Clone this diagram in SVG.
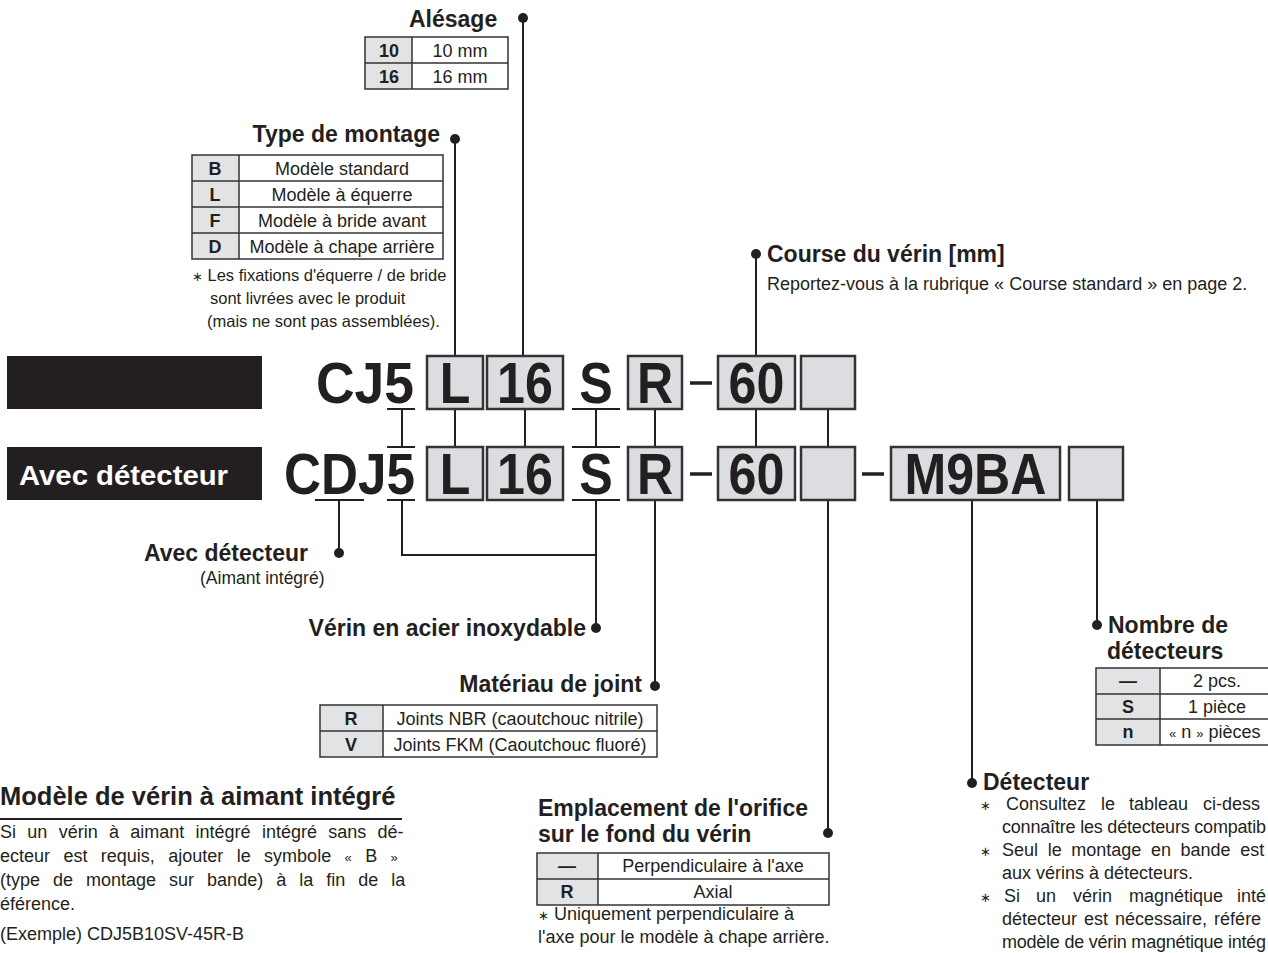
<svg xmlns="http://www.w3.org/2000/svg" width="1268" height="953" viewBox="0 0 1268 953">
<style>
text{font-family:"Liberation Sans",Arial,"DejaVu Sans",sans-serif;fill:#231f20}
.h{font-size:23px;font-weight:bold}
.big{font-size:57px;font-weight:bold}
.bd{font-size:18px}
.bk{font-size:18px;font-weight:bold}
.nt{font-size:16.5px}
.ast{font-size:13px}
.m{text-anchor:middle}
.e{text-anchor:end}
.ln{stroke:#231f20;stroke-width:2;fill:none}
.box{fill:#dcdde0;stroke:#333;stroke-width:2.5}
.key{fill:#e2e3e5;stroke:none}
.tb{fill:none;stroke:#333;stroke-width:1.5}
.dot{fill:#231f20}
.bar{fill:#231f20}
</style>

<g id="connectors">
<path class="ln" d="M523 18V356M455 139V356M756 254V356"/>
<path class="ln" d="M402 409V447M455 409V447M525 409V447M596 409V447M655 409V447M756 409V447M828 409V447"/>
<path class="ln" d="M387 409H415M572 409H620M387 447H415M572 447H620M315 500H364M387 500H415M572 500H620"/>
<path class="ln" d="M339 500V553M402 500V555H596M596 500V628M655 500V686M828 500V833M972 500V783M1097 500V625"/>
<circle class="dot" cx="523" cy="18" r="5"/>
<circle class="dot" cx="455" cy="139" r="5"/>
<circle class="dot" cx="756" cy="254" r="5"/>
<circle class="dot" cx="339" cy="553" r="5"/>
<circle class="dot" cx="596" cy="628" r="5"/>
<circle class="dot" cx="655" cy="686" r="5"/>
<circle class="dot" cx="828" cy="833" r="5"/>
<circle class="dot" cx="972" cy="783" r="5"/>
<circle class="dot" cx="1097" cy="625" r="5"/>
</g>

<g id="bar-standard">
<rect class="bar" x="7" y="356" width="255" height="53"/>
</g>
<g id="bar-detecteur">
<rect class="bar" x="7" y="447" width="255" height="53"/>
<text x="19" y="485" font-size="27.5" font-weight="bold" style="fill:#fff" textLength="209" lengthAdjust="spacingAndGlyphs">Avec détecteur</text>
</g>

<g id="row-top">
<text class="big" x="316" y="403" textLength="98" lengthAdjust="spacingAndGlyphs">CJ5</text>
<rect class="box" x="427" y="356" width="56" height="53"/>
<text class="big" x="439.7" y="403" textLength="30.6" lengthAdjust="spacingAndGlyphs">L</text>
<rect class="box" x="487" y="356" width="76" height="53"/>
<text class="big" x="497.1" y="403" textLength="55.8" lengthAdjust="spacingAndGlyphs">16</text>
<text class="big" x="579.3" y="403" textLength="33.5" lengthAdjust="spacingAndGlyphs">S</text>
<rect class="box" x="628" y="356" width="54" height="53"/>
<text class="big" x="636.9" y="403" textLength="36.2" lengthAdjust="spacingAndGlyphs">R</text>
<path class="ln" d="M690 383H712" style="stroke-width:3.5"/>
<rect class="box" x="718" y="356" width="77" height="53"/>
<text class="big" x="728.6" y="403" textLength="55.8" lengthAdjust="spacingAndGlyphs">60</text>
<rect class="box" x="801" y="356" width="54" height="53"/>
</g>

<g id="row-bottom">
<text class="big" x="284" y="494" textLength="131" lengthAdjust="spacingAndGlyphs">CDJ5</text>
<rect class="box" x="427" y="447" width="56" height="53"/>
<text class="big" x="439.7" y="494" textLength="30.6" lengthAdjust="spacingAndGlyphs">L</text>
<rect class="box" x="487" y="447" width="76" height="53"/>
<text class="big" x="497.1" y="494" textLength="55.8" lengthAdjust="spacingAndGlyphs">16</text>
<text class="big" x="579.3" y="494" textLength="33.5" lengthAdjust="spacingAndGlyphs">S</text>
<rect class="box" x="628" y="447" width="54" height="53"/>
<text class="big" x="636.9" y="494" textLength="36.2" lengthAdjust="spacingAndGlyphs">R</text>
<path class="ln" d="M690 474H712M862 474H884" style="stroke-width:3.5"/>
<rect class="box" x="718" y="447" width="77" height="53"/>
<text class="big" x="728.6" y="494" textLength="55.8" lengthAdjust="spacingAndGlyphs">60</text>
<rect class="box" x="801" y="447" width="54" height="53"/>
<rect class="box" x="891" y="447" width="169" height="53"/>
<text class="big" x="904.5" y="494" textLength="142" lengthAdjust="spacingAndGlyphs">M9BA</text>
<rect class="box" x="1069" y="447" width="54" height="53"/>
</g>

<g id="alesage">
<text class="h" x="409" y="27">Alésage</text>
<rect class="key" x="365" y="37" width="47" height="52"/>
<rect class="tb" x="365" y="37" width="143" height="52"/>
<path class="tb" d="M365 63H508M412 37V89"/>
<text class="bk m" x="389" y="57">10</text>
<text class="bd m" x="460" y="57">10 mm</text>
<text class="bk m" x="389" y="83">16</text>
<text class="bd m" x="460" y="83">16 mm</text>
</g>

<g id="type-montage">
<text class="h e" x="440" y="142">Type de montage</text>
<rect class="key" x="192" y="155" width="47" height="104"/>
<rect class="tb" x="192" y="155" width="251" height="104"/>
<path class="tb" d="M192 181H443M192 207H443M192 233H443M239 155V259"/>
<text class="bk m" x="215" y="174.5">B</text>
<text class="bd m" x="342" y="174.5">Modèle standard</text>
<text class="bk m" x="215" y="200.5">L</text>
<text class="bd m" x="342" y="200.5">Modèle à équerre</text>
<text class="bk m" x="215" y="226.5">F</text>
<text class="bd m" x="342" y="226.5">Modèle à bride avant</text>
<text class="bk m" x="215" y="252.5">D</text>
<text class="bd m" x="342" y="252.5">Modèle à chape arrière</text>
<text class="nt" x="192" y="281"><tspan class="ast">∗</tspan> Les fixations d'équerre / de bride</text>
<text class="nt" x="210" y="304">sont livrées avec le produit</text>
<text class="nt" x="207" y="327">(mais ne sont pas assemblées).</text>
</g>

<g id="course">
<text class="h" x="767" y="262">Course du vérin [mm]</text>
<text class="bd" x="767" y="290">Reportez-vous à la rubrique « Course standard » en page 2.</text>
</g>

<g id="avec-detecteur">
<text class="h e" x="308" y="561">Avec détecteur</text>
<text x="200" y="584" font-size="17.5">(Aimant intégré)</text>
</g>

<g id="inox">
<text class="h e" x="586" y="636">Vérin en acier inoxydable</text>
</g>

<g id="joint">
<text class="h e" x="642" y="692">Matériau de joint</text>
<rect class="key" x="320" y="705" width="63" height="52"/>
<rect class="tb" x="320" y="705" width="337" height="52"/>
<path class="tb" d="M320 731H657M383 705V757"/>
<text class="bk m" x="351" y="724.5">R</text>
<text class="bd m" x="520" y="724.5">Joints NBR (caoutchouc nitrile)</text>
<text class="bk m" x="351" y="750.5">V</text>
<text class="bd m" x="520" y="750.5">Joints FKM (Caoutchouc fluoré)</text>
</g>

<g id="nombre">
<text class="h" x="1108" y="633">Nombre de</text>
<text class="h" x="1107" y="659">détecteurs</text>
<rect class="key" x="1096" y="668" width="64" height="77"/>
<rect class="tb" x="1096" y="668" width="176" height="77"/>
<path class="tb" d="M1096 694H1268M1096 719H1268M1160 668V745"/>
<text class="bk m" x="1128" y="687">—</text>
<text class="bd m" x="1217" y="687">2 pcs.</text>
<text class="bk m" x="1128" y="712.5">S</text>
<text class="bd m" x="1217" y="712.5">1 pièce</text>
<text class="bk m" x="1128" y="738">n</text>
<text class="bd" x="1169" y="738"><tspan font-size="13">«</tspan> n <tspan font-size="13">»</tspan> pièces</text>
</g>

<g id="emplacement">
<text class="h" x="538" y="816">Emplacement de l'orifice</text>
<text class="h" x="538" y="842">sur le fond du vérin</text>
<rect class="key" x="537" y="853" width="61" height="52"/>
<rect class="tb" x="537" y="853" width="292" height="52"/>
<path class="tb" d="M537 879H829M598 853V905"/>
<text class="bk m" x="567" y="872">—</text>
<text class="bd m" x="713" y="872">Perpendiculaire à l'axe</text>
<text class="bk m" x="567" y="898">R</text>
<text class="bd m" x="713" y="898">Axial</text>
<text class="bd" x="538" y="920"><tspan class="ast">∗</tspan> Uniquement perpendiculaire à</text>
<text class="bd" x="538" y="943">l'axe pour le modèle à chape arrière.</text>
</g>

<g id="detecteur">
<text class="h" x="983" y="790">Détecteur</text>
<text class="bd" y="810"><tspan class="ast" x="980">∗</tspan><tspan x="1006">Consultez</tspan><tspan x="1101">le</tspan><tspan x="1129">tableau</tspan><tspan x="1203">ci-dess</tspan></text>
<text class="bd" x="1002" y="833" textLength="264" lengthAdjust="spacing">connaître les détecteurs compatib</text>
<text class="bd" y="856"><tspan class="ast" x="980">∗</tspan><tspan x="1002" word-spacing="4.6">Seul le montage en bande est</tspan></text>
<text class="bd" x="1002" y="879">aux vérins à détecteurs.</text>
<text class="bd" y="902"><tspan class="ast" x="980">∗</tspan><tspan x="1004">Si</tspan><tspan x="1036">un</tspan><tspan x="1073">vérin</tspan><tspan x="1129">magnétique</tspan><tspan x="1237">inté</tspan></text>
<text class="bd" x="1002" y="925" word-spacing="2">détecteur est nécessaire, référe</text>
<text class="bd" x="1002" y="948" textLength="264" lengthAdjust="spacing">modèle de vérin magnétique intég</text>
</g>

<g id="modele-aimant">
<text x="0" y="805" font-size="25.5" font-weight="bold">Modèle de vérin à aimant intégré</text>
<path class="ln" d="M0 819H402"/>
<text class="bd" x="0" y="838" word-spacing="6.3">Si un vérin à aimant intégré intégré sans dé-</text>
<text class="bd" x="0" y="862" word-spacing="8.4">ecteur est requis, ajouter le symbole <tspan font-size="13">«</tspan> B <tspan font-size="13">»</tspan></text>
<text class="bd" x="0" y="886" word-spacing="8">(type de montage sur bande) à la fin de la</text>
<text class="bd" x="0" y="910">éférence.</text>
<text class="bd" x="0" y="940">(Exemple) CDJ5B10SV-45R-B</text>
</g>
</svg>
